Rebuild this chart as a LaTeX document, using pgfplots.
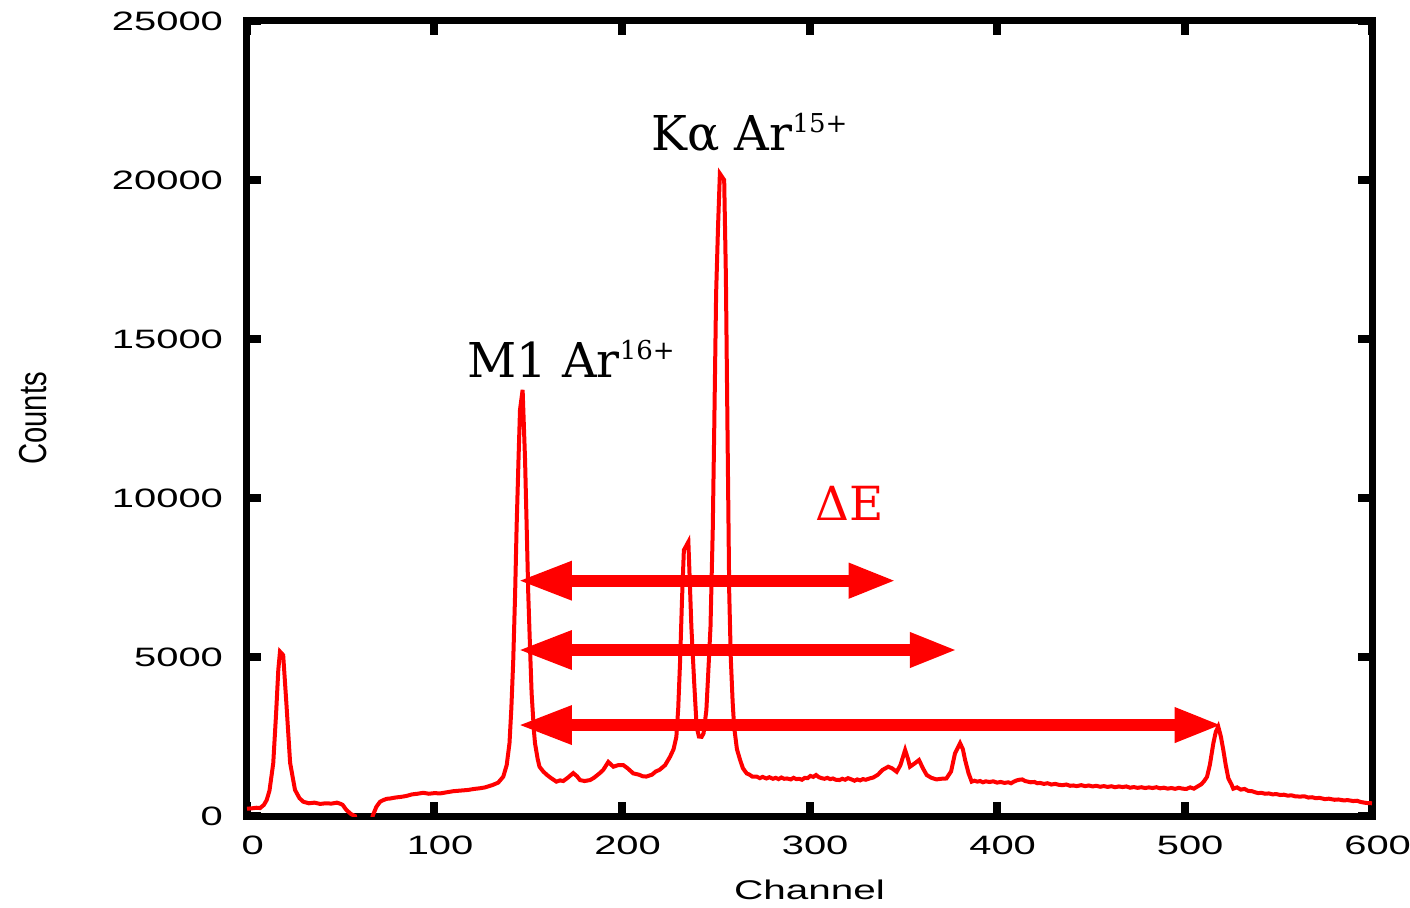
\documentclass[border=0pt]{standalone}
\usepackage{fontspec}
\usepackage{pgfplots}
\pgfplotsset{compat=1.18}
\usetikzlibrary{arrows.meta}
\newfontfamily\tickfont[FakeStretch=1.5]{Liberation Sans}
\newfontfamily\countsfont[FakeStretch=0.75]{Liberation Sans}
\newfontfamily\annfont{DejaVu Serif}

\begin{document}
\begin{tikzpicture}
\begin{axis}[
  scale only axis, width=562.5pt, height=397.5pt,
  xmin=0, xmax=600, ymin=0, ymax=25000,
  xtick={0,100,...,600}, ytick={0,5000,...,25000},
  scaled ticks=false,
  /pgf/number format/1000 sep={},
  /pgf/number format/assume math mode=true,
  tick align=inside,
  major tick length=7pt,
  every tick/.style={black, line width=4pt},
  axis line style={line width=3.5pt},
  tick label style={font=\tickfont\fontsize{13.3}{15}\selectfont},
  yticklabel style={xshift=-8.5pt},
  xticklabel style={yshift=-6.5pt, xshift=2.8pt},
  xlabel={Channel},
  xlabel style={font=\tickfont\fontsize{13.5}{15}\selectfont, at={(axis description cs:0.5,0)}, anchor=base, yshift=-41.5pt},
]
\addplot[red, line width=2pt, mark=none] coordinates {
(0,230) (2.5,240) (5,260) (7,250) (9,350) (10.5,500) (12,800) (14,1660) (15.5,3200)
(16.7,4600) (17.6,5170) (19.3,5060) (21,3550) (23,1670) (25.6,820) (28,560) (30,450)
(33,400) (36,420) (39,380) (42,400) (45,390) (48,420) (50,380) (51,350) (53,190)
(55.5,60) (57.6,0) (59,-400) (66,-400) (67,0) (69,290) (71,450) (72.7,500) (74.5,540)
(76.3,550) (79,580) (82,600) (85,630) (88,680) (91,700) (94,730) (97,700) (100,720)
(103,710) (106,740) (110,780) (114,800) (118,820) (121,850) (124,870) (127,900)
(131,975) (134,1050) (136.7,1240) (138.5,1600) (140,2290) (141,3400) (142,4900)
(143,7000) (143.8,9100) (144.8,11200) (145.6,12770) (147,13400) (148.3,11200)
(149.2,9000) (150,7000) (151,5200) (151.8,3860) (153,2700) (153.6,2290) (155,1800)
(156,1550) (158,1400) (160,1290) (162,1200) (165,1080) (167,1120) (168.7,1100)
(171,1200) (174,1350) (176,1250) (177.6,1130) (180,1100) (183,1130) (185,1200)
(188,1340) (190,1450) (192.7,1700) (195.4,1550) (198,1600) (200.7,1600) (203,1500)
(206,1340) (209,1300) (211,1250) (213,1240) (216,1300) (218,1400) (220,1450)
(223,1600) (225.6,1860) (227.5,2100) (229,2490) (230,3400) (231,4900) (232,6800)
(233,8360) (235.4,8620) (236.2,7300) (237,5950) (238.5,4200) (239.8,2810) (241,2500)
(242.5,2490) (243.5,2600) (245,3330) (246,4500) (247.2,5950) (248.4,9000) (249.2,12200)
(250.2,16430) (251.2,18500) (252.2,20200) (254.5,20000) (255.4,17000) (256.2,12500)
(257.2,7000) (258,5000) (259,3600) (259.8,2810) (261.3,2100) (263,1760) (264.5,1500)
(266.5,1340) (268,1300) (269.5,1240) (271.8,1240) (273.5,1190) (275,1230) (277,1180)
(278.6,1220) (280.5,1170) (282,1200) (283.5,1160) (285,1210) (286.5,1170) (288,1180)
(290,1150) (291.5,1200) (293,1160) (294.5,1170) (296,1140) (297.5,1200) (299,1190)
(300.5,1260) (302,1230) (303.5,1290) (305,1220) (306.5,1190) (308,1170) (309.5,1200)
(311,1160) (312.5,1180) (314,1140) (316,1130) (317.5,1170) (319,1140) (320.5,1190)
(322,1160) (324,1110) (325.5,1150) (327,1120) (328.5,1160) (330,1140) (332,1180)
(334,1210) (336.5,1300) (339,1450) (342,1550)
(344,1500) (346.5,1390) (348.5,1600) (351,2075) (352.5,1800) (353.6,1550) (356,1650)
(358.4,1760) (360.5,1500) (362.5,1290) (365,1200) (367.8,1150) (370,1170) (373,1180)
(375.5,1400) (377.6,1970) (380.3,2290) (381.8,2100) (383,1760) (384.8,1350)
(386.5,1080) (388,1110) (389.5,1080) (391,1100) (392.5,1060) (394,1090) (396,1070)
(398,1090) (400,1050) (402,1070) (404,1040) (406,1060) (407.5,1030) (409,1080)
(410.5,1120) (412,1140) (413.5,1150) (415,1100) (416.5,1080) (418,1060) (420,1070)
(421.5,1030) (423,1040) (425,1010) (427,1030) (429,990) (431,1010) (433,980) (435,970)
(437,990) (439,950) (440.7,960) (442.5,940) (445,970) (447,940) (449,960) (451,930)
(453,950) (455,920) (457,940) (459,915) (461,935) (463,905) (465,930) (467,910)
(469,930) (471,890) (473,910) (475,885) (477,905) (479,880) (481,900) (483,880)
(485,905) (487,870) (489,890) (491,860) (493,880) (495,855) (497,885) (499,860)
(501,850) (503,900) (505,860) (507,930) (509,1000) (510.5,1100) (512,1230) (513.5,1600)
(515.4,2290) (516.7,2650) (518,2810) (519.4,2500) (520.7,2075) (522,1600)
(523.4,1180) (525,1000) (526,860) (528,900) (530,830) (532,850) (534,790) (536,780)
(538,740) (539.4,720) (541,730) (543,700) (545,710) (547,680) (549,690) (551,660)
(553,670) (555,640) (557,650) (559,620) (561.6,610) (564,620) (566,580) (568,590)
(570,560) (572,570) (575,530) (577,545) (580,510) (582,520) (585,490) (587,500)
(590,470) (592,480) (594,440) (597,410) (600,400)
};
\draw[red, line width=6pt, {Triangle[length=27pt,width=18pt]}-{Triangle[length=24pt,width=16pt]}]
  (axis cs:144.5,7400) -- (axis cs:346.5,7400);
\draw[red, line width=6pt, {Triangle[length=27pt,width=18pt]}-{Triangle[length=24pt,width=16pt]}]
  (axis cs:144.5,5220) -- (axis cs:379.1,5220);
\draw[red, line width=6pt, {Triangle[length=27pt,width=18pt]}-{Triangle[length=24pt,width=16pt]}]
  (axis cs:144.5,2860) -- (axis cs:520.3,2860);
\node[anchor=base west, inner sep=0pt, font=\annfont\fontsize{24}{24}\selectfont]
  at (axis cs:215.5,20940) {Kα Ar\raisebox{9pt}{\fontsize{13}{13}\selectfont 15+}};
\node[anchor=base west, inner sep=0pt, font=\annfont\fontsize{24}{24}\selectfont]
  at (axis cs:117.3,13800) {M1 Ar\raisebox{9pt}{\fontsize{13}{13}\selectfont 16+}};
\node[anchor=base west, inner sep=0pt, text=red, font=\annfont\fontsize{23.5}{24}\selectfont]
  at (axis cs:303,9280) {ΔE};
\coordinate (SW) at (rel axis cs:0,0);
\coordinate (ML) at (rel axis cs:0,0.5);
\end{axis}
\node[rotate=90, font=\countsfont\fontsize{19.5}{20}\selectfont] at ([xshift=-107pt]ML) {Counts};
\pgfresetboundingbox
\path ([shift={(-123.5pt,-45.5pt)}]SW) rectangle ([shift={(581.5pt,408pt)}]SW);
\end{tikzpicture}
\end{document}
